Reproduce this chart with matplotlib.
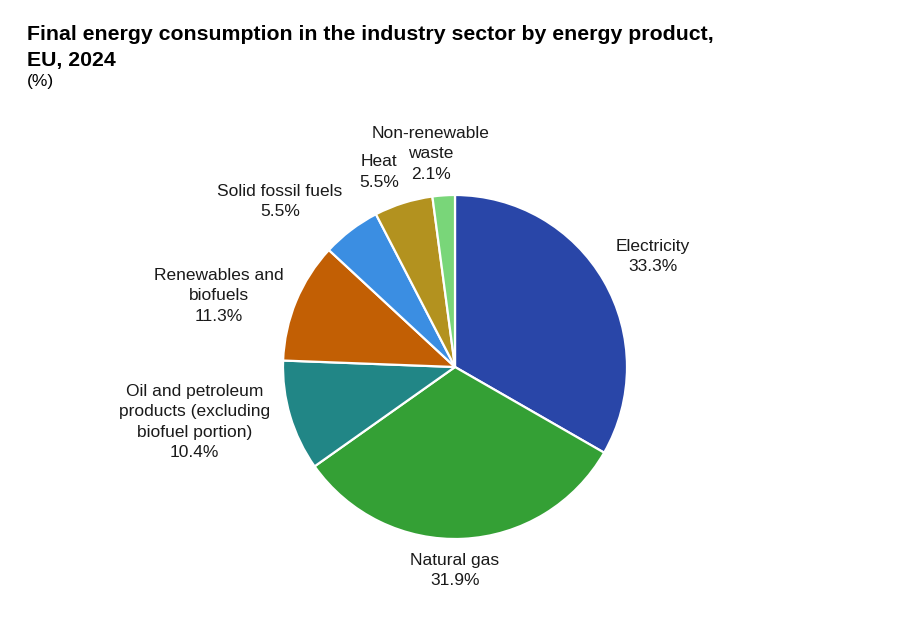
import matplotlib.pyplot as plt
import numpy as np

plt.rcParams['font.family'] = ['Liberation Sans', 'DejaVu Sans']

# data
products = ["Electricity", "Natural gas",
            "Oil and petroleum\nproducts (excluding\nbiofuel portion)",
            "Renewables and\nbiofuels", "Solid fossil fuels", "Heat",
            "Non-renewable\nwaste"]
shares = [33.3, 31.9, 10.4, 11.3, 5.5, 5.5, 2.1]
colors = ["#2946a8", "#34a035", "#218686", "#c25f04", "#3b8ee2", "#b3921f", "#79d679"]

fig = plt.figure(figsize=(8.98, 6.33), dpi=100)
ax = fig.add_axes([283 / 898, 94 / 633, 344 / 898, 344 / 633])

wedges, _ = ax.pie(shares, colors=colors, startangle=90, counterclock=False,
                   radius=1, wedgeprops=dict(edgecolor="white", linewidth=1.6))
ax.set_xlim(-1, 1)
ax.set_ylim(-1, 1)
ax.axis("off")

# labels outside each wedge
for w, name, val in zip(wedges, products, shares):
    mid = np.deg2rad((w.theta1 + w.theta2) / 2)
    c, s = np.cos(mid), np.sin(mid)
    d = 1.08 if abs(s) > 0.3 else 1.12
    if abs(c) < 0.15:
        ha = "center"
        if s > 0:
            c = c * 2  # small slices at the top sit a bit further to the side
        else:
            c = 0
    else:
        ha = "left" if c > 0 else "right"
    if s > 0.45:
        va = "bottom"
    elif s < -0.45:
        va = "top"
    else:
        va = "center"
    ax.text(d * c, d * s, f"{name}\n{val:.1f}%", ha=ha, va=va,
            multialignment="center", fontsize=12.5, color="#1a1a1a",
            linespacing=1.45, clip_on=False)

fig.text(27 / 898, 1 - 25 / 633,
         "Final energy consumption in the industry sector by energy product,\nEU, 2024",
         fontsize=15.3, fontweight="bold", ha="left", va="top", linespacing=1.48)
fig.text(27 / 898, 1 - 74 / 633, "(%)", fontsize=12.5, ha="left", va="top")

fig.savefig("out.png", dpi=100)
